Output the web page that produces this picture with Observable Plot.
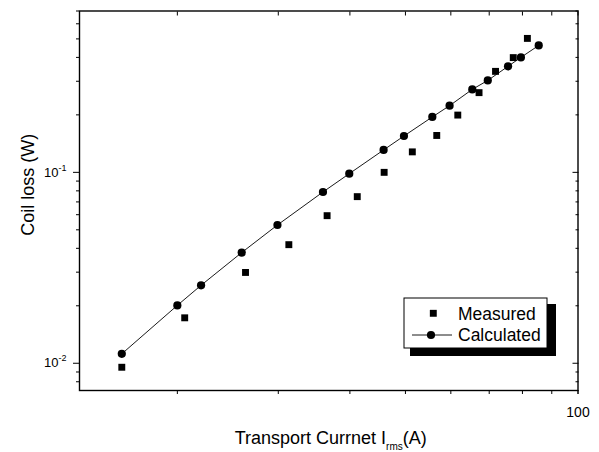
<!DOCTYPE html>
<html><head><meta charset="utf-8">
<script src="https://cdn.jsdelivr.net/npm/d3@7"></script>
<script src="https://cdn.jsdelivr.net/npm/@observablehq/plot@0.6"></script>
<style>
body{margin:0;background:#fff}
svg{display:block}
</style>
</head><body><div id="chart"></div>
<script>
// Calculated series (line + circles)
const calcCurrent = [16.0, 20.0, 22.0, 25.9, 29.9, 35.9, 39.9, 45.8, 49.7, 55.7, 59.7, 65.4, 69.6, 75.5, 79.5, 85.4];
const calcLoss    = [0.0112, 0.0201, 0.0256, 0.0380, 0.0530, 0.0789, 0.0984, 0.131, 0.155, 0.195, 0.2235, 0.272, 0.303, 0.359, 0.400, 0.462];
// Measured series (squares)
const measCurrent = [16.0, 20.6, 26.3, 31.3, 36.5, 41.2, 45.9, 51.4, 56.7, 61.7, 67.2, 71.8, 77.1, 81.6];
const measLoss    = [0.00953, 0.0173, 0.0299, 0.0418, 0.0593, 0.0746, 0.100, 0.128, 0.156, 0.1995, 0.2615, 0.338, 0.399, 0.503];

const xTicks = [20, 30, 40, 50, 60, 70, 80, 90, 100];
const xTickLabels = [100];
const yMajorTicks = [0.01, 0.1];
const yMajorLabels = ["10^-2", "10^-1"];
const yMinorTicks = [0.008, 0.009, 0.02, 0.03, 0.04, 0.05, 0.06, 0.07, 0.08, 0.09, 0.2, 0.3, 0.4, 0.5, 0.6, 0.7];

const xLabelMain = "Transport Currnet I";
const xLabelSub = "rms";
const xLabelEnd = "(A)";
const yLabel = "Coil loss (W)";
const legendLabels = ["Measured", "Calculated"];

const calc = calcCurrent.map((x, i) => ({x, y: calcLoss[i]}));
const meas = measCurrent.map((x, i) => ({x, y: measLoss[i]}));

const font = "Arial, 'Liberation Sans', sans-serif";

const svg = Plot.plot({
  width: 599,
  height: 452,
  marginLeft: 79,
  marginRight: 21.5,
  marginTop: 10.5,
  marginBottom: 62,
  style: {fontFamily: font, background: "#fff", color: "#000"},
  x: {type: "log", domain: [13.5, 100], label: null},
  y: {type: "log", domain: [0.0072, 0.7], label: null},
  marks: [
    Plot.frame({stroke: "#000", strokeWidth: 1.4}),
    // bottom ticks (outward)
    Plot.axisX({anchor: "bottom", ticks: xTicks, tickSize: 4, tickFormat: () => ""}),
    Plot.axisX({anchor: "bottom", ticks: xTickLabels, tickSize: 4, tickPadding: 13, fontSize: 14, tickFormat: d => String(d)}),
    // top ticks (inward)
    Plot.axisX({anchor: "top", ticks: xTicks, tickSize: -4, tickFormat: () => ""}),
    // left ticks (outward)
    Plot.axisY({anchor: "left", ticks: yMinorTicks, tickSize: 3, tickFormat: () => ""}),
    Plot.axisY({anchor: "left", ticks: yMajorTicks, tickSize: 6, tickPadding: 7, fontSize: 13,
      tickFormat: d => yMajorLabels[yMajorTicks.indexOf(d)]}),
    // right ticks (inward)
    Plot.axisY({anchor: "right", ticks: yMinorTicks, tickSize: -3, tickFormat: () => ""}),
    Plot.axisY({anchor: "right", ticks: yMajorTicks, tickSize: -6, tickFormat: () => ""}),
    // data
    Plot.line(calc, {x: "x", y: "y", stroke: "#000", strokeWidth: 0.9}),
    Plot.dot(calc, {x: "x", y: "y", r: 4.1, fill: "#000", stroke: "none", symbol: "circle"}),
    Plot.dot(meas, {x: "x", y: "y", r: 3.9, fill: "#000", stroke: "none", symbol: "square"}),
    // axis titles
    Plot.text([xLabelMain], {frameAnchor: "bottom", textAnchor: "middle", lineAnchor: "middle", dx: 2, dy: 48, fontSize: 18, fill: "#000", text: d => d}),
    Plot.text([yLabel], {frameAnchor: "left", textAnchor: "middle", lineAnchor: "middle", rotate: -90, dx: -51, dy: -16, fontSize: 18, fill: "#000", text: d => d})
  ]
});

const s = d3.select(svg);
// superscripts for y tick labels, subscript for x label
s.selectAll("text").each(function () {
  const t = this.textContent;
  const sel = d3.select(this);
  if (t.includes("^")) {
    const [base, exp] = t.split("^");
    sel.text(null);
    sel.append("tspan").text(base);
    sel.append("tspan").attr("font-size", 9).attr("dy", "-6").text(exp);
  } else if (t === xLabelMain) {
    sel.text(null);
    sel.append("tspan").text(xLabelMain);
    sel.append("tspan").attr("font-size", 10).attr("dy", "6").text(xLabelSub);
    sel.append("tspan").attr("dy", "-6").text(xLabelEnd);
  }
});

// legend box
const lg = s.append("g").attr("font-family", font).attr("font-size", 17.5).attr("text-anchor", "start");
lg.append("rect").attr("x", 410).attr("y", 304).attr("width", 146).attr("height", 52).attr("fill", "#000");
lg.append("rect").attr("x", 404).attr("y", 298).attr("width", 143).attr("height", 50).attr("fill", "#fff").attr("stroke", "#000").attr("stroke-width", 1);
lg.append("path").attr("d", d3.symbol(d3.symbolSquare, Math.PI * 3.9 * 3.9)()).attr("transform", "translate(433.3,313.3)").attr("fill", "#000");
lg.append("line").attr("x1", 412).attr("x2", 452).attr("y1", 335).attr("y2", 335).attr("stroke", "#000").attr("stroke-width", 0.9);
lg.append("circle").attr("cx", 431).attr("cy", 335).attr("r", 4.1).attr("fill", "#000");
lg.append("text").attr("x", 458).attr("y", 313.5).attr("dy", "0.35em").text(legendLabels[0]);
lg.append("text").attr("x", 458).attr("y", 335).attr("dy", "0.35em").text(legendLabels[1]);

document.getElementById("chart").appendChild(svg);
</script>
</body></html>
